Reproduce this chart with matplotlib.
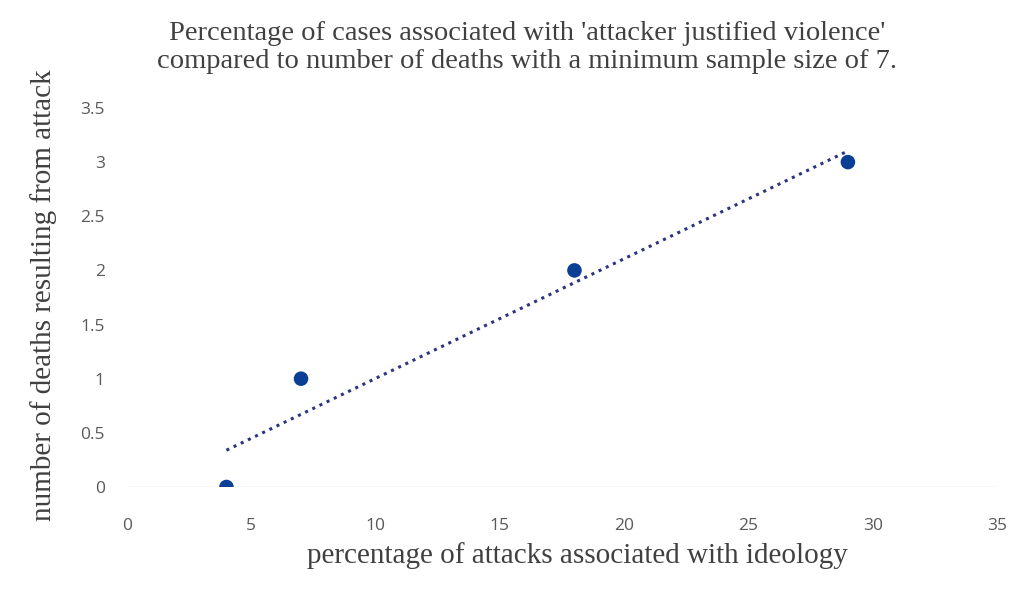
import numpy as np
import matplotlib
matplotlib.use("Agg")
import matplotlib.pyplot as plt

# data
ideology_pct = [4, 7, 18, 29]
deaths = [0, 1, 2, 3]
x_ticks = [0, 5, 10, 15, 20, 25, 30, 35]
y_ticks = [0, 0.5, 1, 1.5, 2, 2.5, 3, 3.5]
y_tick_labels = ["0", "0.5", "1", "1.5", "2", "2.5", "3", "3.5"]

TITLE = ("Percentage of cases associated with 'attacker justified violence'\n"
         "compared to number of deaths with a minimum sample size of 7.")
XLAB = "percentage of attacks associated with ideology"
YLAB = "number of deaths resulting from attack"
DOT, TREND, GRAY = "#0b3f96", "#2e3380", "#595959"

fig = plt.figure(figsize=(10.36, 5.9), dpi=100)
ax = fig.add_axes([0.1226, 0.1746, 0.8398, 0.6424])

# linear trendline (least squares over the points)
k, b = np.polyfit(ideology_pct, deaths, 1)
tx = np.array([min(ideology_pct), max(ideology_pct)])
ax.plot(tx, k * tx + b, linestyle=(0, (1, 1.6)), color=TREND, lw=2.2, zorder=2)
ax.axhline(0, color="#d9d9d9", lw=1, zorder=1)
ax.scatter(ideology_pct, deaths, s=110, color=DOT, zorder=3, edgecolors="none")

ax.set_xlim(0, 35); ax.set_ylim(0, 3.5)
ax.set_xticks(x_ticks); ax.set_yticks(y_ticks)
ax.set_yticklabels(y_tick_labels)
for s in ax.spines.values():
    s.set_visible(False)
ax.tick_params(length=0, labelsize=12.5, labelcolor=GRAY)
for lab in ax.get_xticklabels() + ax.get_yticklabels():
    lab.set_family("Open Sans")
ax.tick_params(axis="x", pad=22)
ax.tick_params(axis="y", pad=16)

fig.text(0.509, 0.965, TITLE, ha="center", va="top", fontsize=20.5,
         family="Liberation Serif", color="#404040", linespacing=1.2)
fig.text(0.557, 0.058, XLAB, ha="center", va="center", fontsize=21,
         family="Liberation Serif", color="#404040")
fig.text(0.042, 0.50, YLAB, ha="center", va="center", rotation=90, fontsize=21,
         family="Liberation Serif", color="#404040")

fig.savefig("out.png", dpi=100)
